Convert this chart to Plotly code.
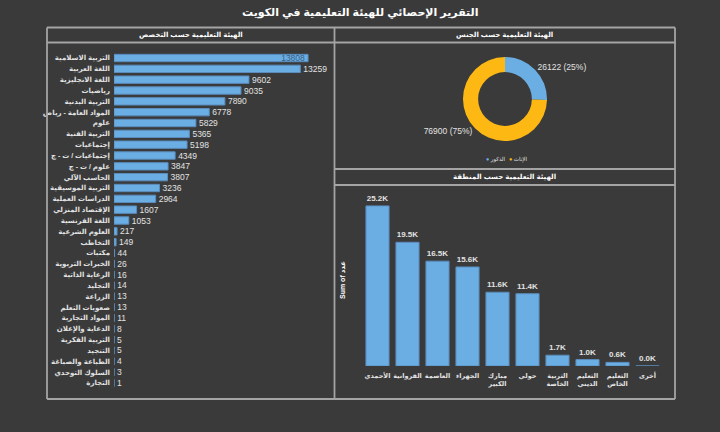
import plotly.graph_objects as go

W, H = 720, 432

# ---------- data ----------
spec_labels = [
    "التربية الاسلامية", "اللغة العربية", "اللغة الانجليزية", "رياضيات", "التربية البدنية",
    "المواد العامة - رياض", "علوم", "التربية الفنية", "إجتماعيات", "إجتماعيات / ت - ج",
    "علوم / ت - ج", "الحاسب الآلي", "التربية الموسيقية", "الدراسات العملية", "الإقتصاد المنزلي",
    "اللغة الفرنسية", "العلوم الشرعية", "التخاطب", "مكتبات", "الخبرات التربوية",
    "الرعاية الذاتية", "التجليد", "الزراعة", "صعوبات التعلم", "المواد التجارية",
    "الدعاية والإعلان", "التربية الفكرية", "التنجيد", "الطباعة والصباغة", "السلوك التوحدي",
    "التجارة",
]
spec_values = [13808, 13259, 9602, 9035, 7890, 6778, 5829, 5365, 5198, 4349,
               3847, 3807, 3236, 2964, 1607, 1053, 217, 149, 44, 26,
               16, 14, 13, 13, 11, 8, 5, 5, 4, 3, 1]

gender_labels = ["الذكور", "الإناث"]
gender_values = [26122, 76900]
gender_colors = ["#6AAEE3", "#FDB813"]

region_labels = ["الأحمدي", "الفروانية", "العاصمة", "الجهراء", "مبارك<br>الكبير", "حولي",
                 "التربية<br>الخاصة", "التعليم<br>الديني", "التعليم<br>الخاص", "أخرى"]
region_values = [25214, 19487, 16512, 15598, 11621, 11386, 1702, 1012, 571, 12]

title_main = "التقرير الإحصائي للهيئة التعليمية في الكويت"
title_spec = "الهيئة التعليمية حسب التخصص"
title_gender = "الهيئة التعليمية حسب الجنس"
title_region = "الهيئة التعليمية حسب المنطقة"
ytitle_region = "Sum of عدد"

# ---------- helpers ----------
def px(x):
    return x / W

def py(y):
    return 1 - y / H

BG = "#3a3a3a"
BAR = "#6AAEE3"
BAR_LINE = "#5B8CBC"
TXT = "#E2E2E2"
FRAME = "#A4A4A4"
FONT = "Liberation Sans, DejaVu Sans, Arial, sans-serif"

fig = go.Figure()

# left horizontal bars
fig.add_trace(go.Bar(
    x=spec_values, y=spec_labels, orientation="h",
    marker=dict(color=BAR, line=dict(color=BAR_LINE, width=1)),
    text=[str(v) for v in spec_values],
    textposition=["inside"] + ["outside"] * (len(spec_values) - 1),
    insidetextanchor="end", constraintext="none",
    insidetextfont=dict(color="#3A5F86", size=8.5, family=FONT),
    outsidetextfont=dict(color=TXT, size=8.5, family=FONT),
    cliponaxis=False, showlegend=False, hoverinfo="skip",
    xaxis="x", yaxis="y",
))

# donut
fig.add_trace(go.Pie(
    labels=gender_labels, values=gender_values, hole=0.64,
    marker=dict(colors=gender_colors),
    sort=False, direction="clockwise", rotation=0,
    textposition="outside", texttemplate="%{value:.0f} (%{percent:.0%})",
    textfont=dict(color=TXT, size=8.5, family=FONT),
    domain=dict(x=[px(463), px(547)], y=[py(141), py(57)]),
    showlegend=False, hoverinfo="skip",
))

# bottom vertical bars
fig.add_trace(go.Bar(
    x=region_labels, y=region_values,
    width=[0.77] * len(region_values),
    marker=dict(color=BAR, line=dict(color=BAR_LINE, width=1)),
    text=[f"{v/1000:.1f}K" for v in region_values],
    textposition="outside", constraintext="none",
    textfont=dict(color=TXT, size=8, family=FONT, weight="bold"),
    cliponaxis=False, showlegend=False, hoverinfo="skip",
    xaxis="x2", yaxis="y2",
))

fig.update_layout(
    width=W, height=H,
    paper_bgcolor=BG, plot_bgcolor="rgba(0,0,0,0)",
    margin=dict(l=0, r=0, t=0, b=0, autoexpand=False),
    font=dict(family=FONT, color=TXT),
    bargap=0.32,
    xaxis=dict(domain=[px(114), px(322)], range=[0, 14800], visible=False,
               fixedrange=True),
    yaxis=dict(domain=[py(388.4), py(52.6)], autorange="reversed",
               showgrid=False, zeroline=False, showline=False, ticks="",
               ticklabelstandoff=3,
               tickfont=dict(size=7, color=TXT, family=FONT, weight="bold")),
    xaxis2=dict(domain=[px(362.5), px(662.5)], anchor="y2", type="category",
                showgrid=False, zeroline=False, showline=False, ticks="",
                ticklabelstandoff=4, tickangle=0,
                tickfont=dict(size=6.5, color=TXT, family=FONT, weight="bold")),
    yaxis2=dict(domain=[py(366), py(191.4)], anchor="x2", range=[0, 27500],
                visible=False),
    showlegend=False,
)

# frame shapes
shapes = []
def line(x0, y0, x1, y1):
    shapes.append(dict(type="line", xref="paper", yref="paper",
                       x0=px(x0), y0=py(y0), x1=px(x1), y1=py(y1),
                       line=dict(color=FRAME, width=1.8)))
line(47, 27.5, 675, 27.5)
line(47, 399, 675, 399)
line(47, 27.5, 47, 399)
line(675, 27.5, 675, 399)
line(334.5, 27.5, 334.5, 399)
line(47, 42.5, 334.5, 42.5)
line(334.5, 42.5, 675, 42.5)
line(334.5, 169, 675, 169)
line(334.5, 185, 675, 185)
fig.update_layout(shapes=shapes)

def note(text, x, y, size, color="#FFFFFF", angle=0, xanchor="center"):
    return dict(text=text, x=px(x), y=py(y), xref="paper", yref="paper",
                xanchor=xanchor, yanchor="middle", showarrow=False, textangle=angle,
                font=dict(size=size, color=color, family=FONT))

ann = [
    note(f"<b>{title_main}</b>", 360, 13, 11),
    note(f"<b>{title_spec}</b>", 190.5, 35, 7),
    note(f"<b>{title_gender}</b>", 505, 35, 7),
    note(f"<b>{title_region}</b>", 505, 177, 7),
    note(f"<b>{ytitle_region}</b>", 342, 280, 7, angle=-90),
]
# legend for the donut (circle markers + labels)
leg_x = [484, 507]
for lab, col, lx in zip(gender_labels, gender_colors, leg_x):
    ann.append(note(f"<span style='color:{col}'>●</span> {lab}", lx, 159, 5.5,
                    color=TXT, xanchor="left"))
fig.update_layout(annotations=ann)

fig.write_html("out.html", config={"displayModeBar": False},
               post_script="document.body.style.margin='0';")
